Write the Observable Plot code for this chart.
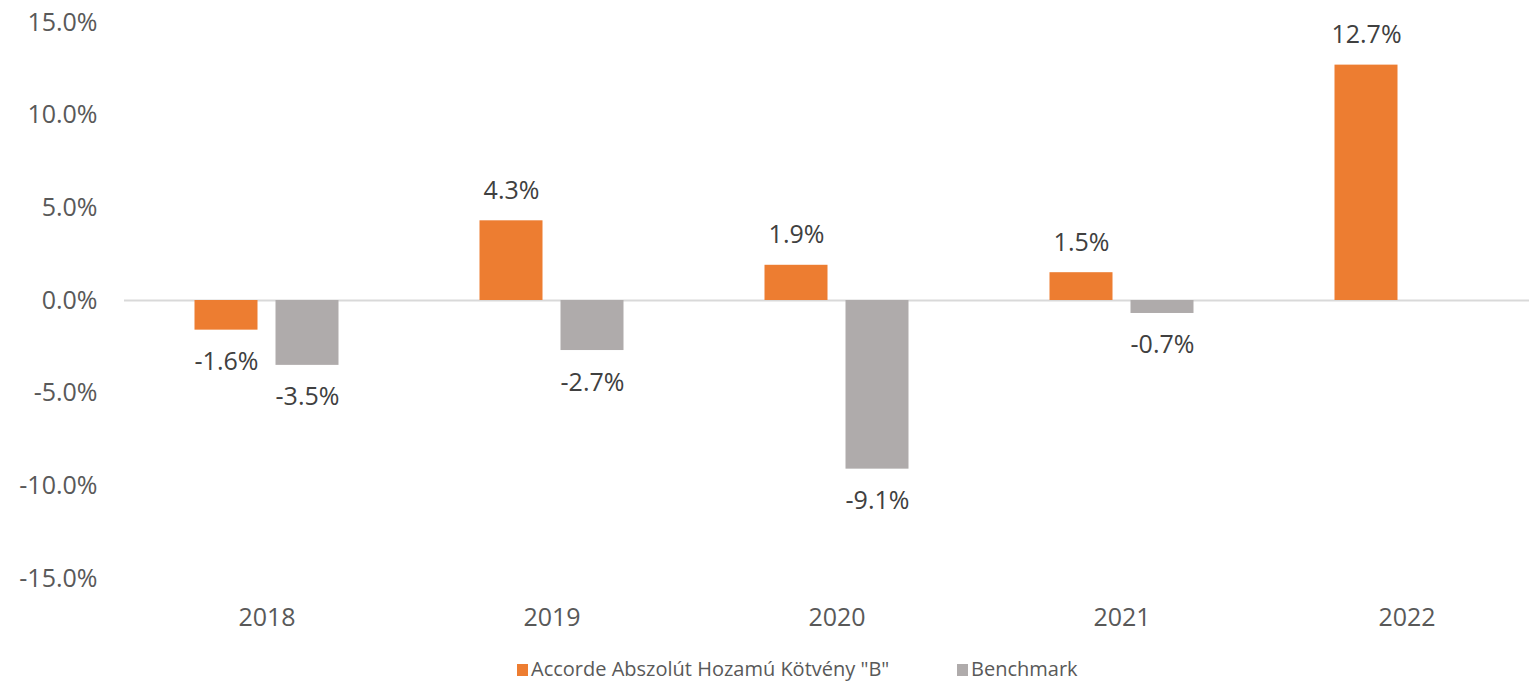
<!DOCTYPE html>
<html>
<head>
<meta charset="utf-8">
<script src="https://cdn.jsdelivr.net/npm/d3@7"></script>
<script src="https://cdn.jsdelivr.net/npm/@observablehq/plot@0.6"></script>
<style>
  html, body { margin: 0; padding: 0; background: #fff; }
  #wrap { position: relative; width: 1529px; height: 683px; overflow: hidden; font-family: "Open Sans", sans-serif; }
  .leg { position: absolute; top: 659px; display: flex; align-items: center; font-size: 20px; line-height: 20px; color: #595959; white-space: nowrap; }
  .sw { width: 11px; height: 12px; margin-right: 3px; margin-top: 2px; }
</style>
</head>
<body>
<div id="wrap"></div>
<script>
const years = ["2018", "2019", "2020", "2021", "2022"];
const seriesNames = ['Accorde Abszolút Hozamú Kötvény "B"', "Benchmark"];
const fundValues = [-1.6, 4.3, 1.9, 1.5, 12.7];
const benchValues = [-3.5, -2.7, -9.1, -0.7, null];
const seriesColors = ["#ED7D31", "#AFABAB"];
const yTicks = [-15, -10, -5, 0, 5, 10, 15];

const data = [];
years.forEach((yr, i) => {
  if (fundValues[i] != null) data.push({year: yr, series: seriesNames[0], value: fundValues[i]});
  if (benchValues[i] != null) data.push({year: yr, series: seriesNames[1], value: benchValues[i]});
});
const fmt = d => d.toFixed(1) + "%";

const chart = Plot.plot({
  width: 1529,
  height: 650,
  marginLeft: 123.5,
  marginRight: -20,
  marginTop: 22,
  marginBottom: 72,
  style: {fontFamily: "Open Sans, sans-serif", fontSize: "25px", color: "#595959", background: "transparent", overflow: "visible"},
  fx: {domain: years, padding: 0, label: null, axis: "bottom", tickSize: 0, tickPadding: 30},
  x: {domain: seriesNames, paddingInner: 0.22, paddingOuter: 0.86, axis: null},
  y: {domain: [-15, 15], ticks: yTicks, tickFormat: fmt, tickSize: 0, tickPadding: 27, label: null},
  color: {domain: seriesNames, range: seriesColors},
  marks: [
    Plot.ruleY([0], {stroke: "#D9D9D9", strokeWidth: 2}),
    Plot.barY(data, {fx: "year", x: "series", y: "value", fill: "series"}),
    Plot.text(data.filter(d => d.value >= 0), {fx: "year", x: "series", y: "value", text: d => fmt(d.value), dy: -30, fill: "#404040"}),
    Plot.text(data.filter(d => d.value < 0), {fx: "year", x: "series", y: "value", text: d => fmt(d.value), dy: 32, fill: "#404040"})
  ]
});
const wrap = document.getElementById("wrap");
wrap.appendChild(chart);

const legendLefts = [517, 957];
seriesNames.forEach((name, i) => {
  const item = document.createElement("div");
  item.className = "leg";
  item.style.left = legendLefts[i] + "px";
  const sw = document.createElement("span");
  sw.className = "sw";
  sw.style.background = seriesColors[i];
  const t = document.createElement("span");
  t.textContent = name;
  item.appendChild(sw);
  item.appendChild(t);
  wrap.appendChild(item);
});
</script>
</body>
</html>
